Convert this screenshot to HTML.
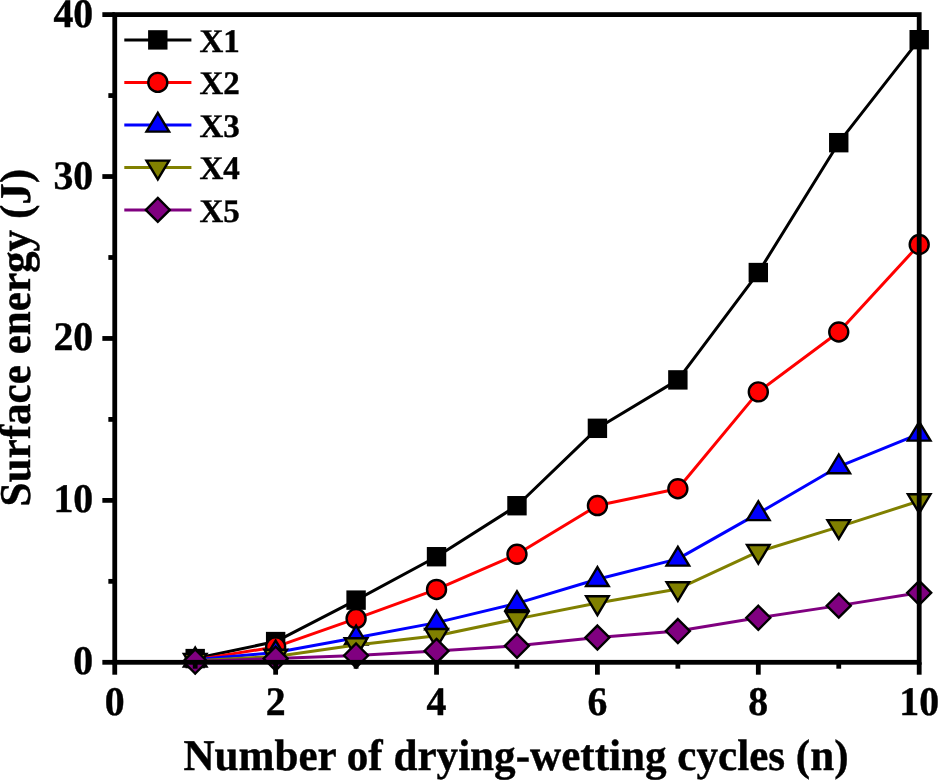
<!DOCTYPE html>
<html><head><meta charset="utf-8"><style>
html,body{margin:0;padding:0;background:#fff;}
svg{display:block;will-change:transform;}
text{font-family:"Liberation Serif",serif;font-weight:bold;fill:#000;text-rendering:geometricPrecision;stroke:#000;stroke-width:0.4px;}
.t{font-size:40.5px;}
.ttl{font-size:44px;}
.lg{font-size:33px;}
</style></head><body>
<svg width="938" height="780" viewBox="0 0 938 780">
<rect width="938" height="780" fill="#fff"/>
<polyline points="195.19,658.58 275.64,641.57 356.09,600.12 436.53,556.72 516.98,505.72 597.42,428.32 677.87,379.90 758.31,272.55 838.75,142.68 919.20,39.70" fill="none" stroke="#000000" stroke-width="3.0" stroke-linejoin="round"/>
<rect x="186.69" y="650.08" width="17.0" height="17.0" fill="#000000" stroke="#000" stroke-width="2.4"/>
<rect x="267.14" y="633.07" width="17.0" height="17.0" fill="#000000" stroke="#000" stroke-width="2.4"/>
<rect x="347.59" y="591.62" width="17.0" height="17.0" fill="#000000" stroke="#000" stroke-width="2.4"/>
<rect x="428.03" y="548.22" width="17.0" height="17.0" fill="#000000" stroke="#000" stroke-width="2.4"/>
<rect x="508.48" y="497.22" width="17.0" height="17.0" fill="#000000" stroke="#000" stroke-width="2.4"/>
<rect x="588.92" y="419.82" width="17.0" height="17.0" fill="#000000" stroke="#000" stroke-width="2.4"/>
<rect x="669.37" y="371.40" width="17.0" height="17.0" fill="#000000" stroke="#000" stroke-width="2.4"/>
<rect x="749.81" y="264.05" width="17.0" height="17.0" fill="#000000" stroke="#000" stroke-width="2.4"/>
<rect x="830.25" y="134.18" width="17.0" height="17.0" fill="#000000" stroke="#000" stroke-width="2.4"/>
<rect x="910.70" y="31.20" width="17.0" height="17.0" fill="#000000" stroke="#000" stroke-width="2.4"/>
<polyline points="195.19,659.87 275.64,646.92 356.09,618.58 436.53,589.43 516.98,554.30 597.42,505.56 677.87,488.72 758.31,391.89 838.75,331.97 919.20,244.53" fill="none" stroke="#ff0000" stroke-width="3.0" stroke-linejoin="round"/>
<circle cx="195.19" cy="659.87" r="9.5" fill="#ff0000" stroke="#000" stroke-width="2.4"/>
<circle cx="275.64" cy="646.92" r="9.5" fill="#ff0000" stroke="#000" stroke-width="2.4"/>
<circle cx="356.09" cy="618.58" r="9.5" fill="#ff0000" stroke="#000" stroke-width="2.4"/>
<circle cx="436.53" cy="589.43" r="9.5" fill="#ff0000" stroke="#000" stroke-width="2.4"/>
<circle cx="516.98" cy="554.30" r="9.5" fill="#ff0000" stroke="#000" stroke-width="2.4"/>
<circle cx="597.42" cy="505.56" r="9.5" fill="#ff0000" stroke="#000" stroke-width="2.4"/>
<circle cx="677.87" cy="488.72" r="9.5" fill="#ff0000" stroke="#000" stroke-width="2.4"/>
<circle cx="758.31" cy="391.89" r="9.5" fill="#ff0000" stroke="#000" stroke-width="2.4"/>
<circle cx="838.75" cy="331.97" r="9.5" fill="#ff0000" stroke="#000" stroke-width="2.4"/>
<circle cx="919.20" cy="244.53" r="9.5" fill="#ff0000" stroke="#000" stroke-width="2.4"/>
<polyline points="195.19,659.71 275.64,652.58 356.09,637.69 436.53,622.63 516.98,603.36 597.42,579.23 677.87,558.83 758.31,513.33 838.75,466.53 919.20,433.82" fill="none" stroke="#0000ff" stroke-width="3.0" stroke-linejoin="round"/>
<polygon points="195.19,647.68 183.89,666.48 206.50,666.48" fill="#0000ff" stroke="#000" stroke-width="2.4" stroke-linejoin="miter"/>
<polygon points="275.64,640.55 264.34,659.35 286.94,659.35" fill="#0000ff" stroke="#000" stroke-width="2.4" stroke-linejoin="miter"/>
<polygon points="356.09,625.66 344.79,644.46 367.39,644.46" fill="#0000ff" stroke="#000" stroke-width="2.4" stroke-linejoin="miter"/>
<polygon points="436.53,610.60 425.23,629.40 447.83,629.40" fill="#0000ff" stroke="#000" stroke-width="2.4" stroke-linejoin="miter"/>
<polygon points="516.98,591.33 505.68,610.13 528.27,610.13" fill="#0000ff" stroke="#000" stroke-width="2.4" stroke-linejoin="miter"/>
<polygon points="597.42,567.20 586.12,586.00 608.72,586.00" fill="#0000ff" stroke="#000" stroke-width="2.4" stroke-linejoin="miter"/>
<polygon points="677.87,546.80 666.57,565.60 689.16,565.60" fill="#0000ff" stroke="#000" stroke-width="2.4" stroke-linejoin="miter"/>
<polygon points="758.31,501.30 747.01,520.10 769.61,520.10" fill="#0000ff" stroke="#000" stroke-width="2.4" stroke-linejoin="miter"/>
<polygon points="838.75,454.50 827.46,473.30 850.05,473.30" fill="#0000ff" stroke="#000" stroke-width="2.4" stroke-linejoin="miter"/>
<polygon points="919.20,421.79 907.90,440.59 930.50,440.59" fill="#0000ff" stroke="#000" stroke-width="2.4" stroke-linejoin="miter"/>
<polyline points="195.19,660.68 275.64,656.47 356.09,644.97 436.53,635.74 516.98,618.90 597.42,603.04 677.87,588.95 758.31,551.71 838.75,526.93 919.20,501.02" fill="none" stroke="#808000" stroke-width="3.0" stroke-linejoin="round"/>
<polygon points="195.19,672.71 183.89,653.91 206.50,653.91" fill="#808000" stroke="#000" stroke-width="2.4" stroke-linejoin="miter"/>
<polygon points="275.64,668.50 264.34,649.70 286.94,649.70" fill="#808000" stroke="#000" stroke-width="2.4" stroke-linejoin="miter"/>
<polygon points="356.09,657.01 344.79,638.21 367.39,638.21" fill="#808000" stroke="#000" stroke-width="2.4" stroke-linejoin="miter"/>
<polygon points="436.53,647.78 425.23,628.98 447.83,628.98" fill="#808000" stroke="#000" stroke-width="2.4" stroke-linejoin="miter"/>
<polygon points="516.98,630.94 505.68,612.14 528.27,612.14" fill="#808000" stroke="#000" stroke-width="2.4" stroke-linejoin="miter"/>
<polygon points="597.42,615.07 586.12,596.27 608.72,596.27" fill="#808000" stroke="#000" stroke-width="2.4" stroke-linejoin="miter"/>
<polygon points="677.87,600.98 666.57,582.18 689.16,582.18" fill="#808000" stroke="#000" stroke-width="2.4" stroke-linejoin="miter"/>
<polygon points="758.31,563.74 747.01,544.94 769.61,544.94" fill="#808000" stroke="#000" stroke-width="2.4" stroke-linejoin="miter"/>
<polygon points="838.75,538.96 827.46,520.16 850.05,520.16" fill="#808000" stroke="#000" stroke-width="2.4" stroke-linejoin="miter"/>
<polygon points="919.20,513.05 907.90,494.25 930.50,494.25" fill="#808000" stroke="#000" stroke-width="2.4" stroke-linejoin="miter"/>
<polyline points="195.19,661.49 275.64,658.58 356.09,655.50 436.53,650.97 516.98,645.78 597.42,637.53 677.87,631.05 758.31,617.77 838.75,605.63 919.20,592.83" fill="none" stroke="#800080" stroke-width="3.0" stroke-linejoin="round"/>
<polygon points="195.19,649.49 207.19,661.49 195.19,673.49 183.19,661.49" fill="#800080" stroke="#000" stroke-width="2.4"/>
<polygon points="275.64,646.58 287.64,658.58 275.64,670.58 263.64,658.58" fill="#800080" stroke="#000" stroke-width="2.4"/>
<polygon points="356.09,643.50 368.09,655.50 356.09,667.50 344.09,655.50" fill="#800080" stroke="#000" stroke-width="2.4"/>
<polygon points="436.53,638.97 448.53,650.97 436.53,662.97 424.53,650.97" fill="#800080" stroke="#000" stroke-width="2.4"/>
<polygon points="516.98,633.78 528.98,645.78 516.98,657.78 504.98,645.78" fill="#800080" stroke="#000" stroke-width="2.4"/>
<polygon points="597.42,625.53 609.42,637.53 597.42,649.53 585.42,637.53" fill="#800080" stroke="#000" stroke-width="2.4"/>
<polygon points="677.87,619.05 689.87,631.05 677.87,643.05 665.87,631.05" fill="#800080" stroke="#000" stroke-width="2.4"/>
<polygon points="758.31,605.77 770.31,617.77 758.31,629.77 746.31,617.77" fill="#800080" stroke="#000" stroke-width="2.4"/>
<polygon points="838.75,593.63 850.75,605.63 838.75,617.63 826.75,605.63" fill="#800080" stroke="#000" stroke-width="2.4"/>
<polygon points="919.20,580.83 931.20,592.83 919.20,604.83 907.20,592.83" fill="#800080" stroke="#000" stroke-width="2.4"/>
<rect x="114.75" y="14.6" width="804.45" height="647.70" fill="none" stroke="#000" stroke-width="4.8" stroke-linejoin="miter"/>
<line x1="102.35" y1="662.30" x2="114.75" y2="662.30" stroke="#000" stroke-width="4.8"/>
<line x1="108.35" y1="581.34" x2="114.75" y2="581.34" stroke="#000" stroke-width="4.8"/>
<line x1="102.35" y1="500.38" x2="114.75" y2="500.38" stroke="#000" stroke-width="4.8"/>
<line x1="108.35" y1="419.41" x2="114.75" y2="419.41" stroke="#000" stroke-width="4.8"/>
<line x1="102.35" y1="338.45" x2="114.75" y2="338.45" stroke="#000" stroke-width="4.8"/>
<line x1="108.35" y1="257.49" x2="114.75" y2="257.49" stroke="#000" stroke-width="4.8"/>
<line x1="102.35" y1="176.53" x2="114.75" y2="176.53" stroke="#000" stroke-width="4.8"/>
<line x1="108.35" y1="95.56" x2="114.75" y2="95.56" stroke="#000" stroke-width="4.8"/>
<line x1="102.35" y1="14.60" x2="114.75" y2="14.60" stroke="#000" stroke-width="4.8"/>
<line x1="114.75" y1="662.3" x2="114.75" y2="674.70" stroke="#000" stroke-width="4.8"/>
<line x1="195.19" y1="662.3" x2="195.19" y2="668.70" stroke="#000" stroke-width="4.8"/>
<line x1="275.64" y1="662.3" x2="275.64" y2="674.70" stroke="#000" stroke-width="4.8"/>
<line x1="356.09" y1="662.3" x2="356.09" y2="668.70" stroke="#000" stroke-width="4.8"/>
<line x1="436.53" y1="662.3" x2="436.53" y2="674.70" stroke="#000" stroke-width="4.8"/>
<line x1="516.98" y1="662.3" x2="516.98" y2="668.70" stroke="#000" stroke-width="4.8"/>
<line x1="597.42" y1="662.3" x2="597.42" y2="674.70" stroke="#000" stroke-width="4.8"/>
<line x1="677.87" y1="662.3" x2="677.87" y2="668.70" stroke="#000" stroke-width="4.8"/>
<line x1="758.31" y1="662.3" x2="758.31" y2="674.70" stroke="#000" stroke-width="4.8"/>
<line x1="838.75" y1="662.3" x2="838.75" y2="668.70" stroke="#000" stroke-width="4.8"/>
<line x1="919.20" y1="662.3" x2="919.20" y2="674.70" stroke="#000" stroke-width="4.8"/>
<text transform="translate(93.2,674.30) scale(0.982,1)" text-anchor="end" class="t">0</text>
<text transform="translate(93.2,512.38) scale(0.982,1)" text-anchor="end" class="t">10</text>
<text transform="translate(93.2,350.45) scale(0.982,1)" text-anchor="end" class="t">20</text>
<text transform="translate(93.2,188.53) scale(0.982,1)" text-anchor="end" class="t">30</text>
<text transform="translate(93.2,26.60) scale(0.982,1)" text-anchor="end" class="t">40</text>
<text transform="translate(114.75,715.2) scale(0.982,1)" text-anchor="middle" class="t">0</text>
<text transform="translate(275.64,715.2) scale(0.982,1)" text-anchor="middle" class="t">2</text>
<text transform="translate(436.53,715.2) scale(0.982,1)" text-anchor="middle" class="t">4</text>
<text transform="translate(597.42,715.2) scale(0.982,1)" text-anchor="middle" class="t">6</text>
<text transform="translate(758.31,715.2) scale(0.982,1)" text-anchor="middle" class="t">8</text>
<text transform="translate(919.20,715.2) scale(0.982,1)" text-anchor="middle" class="t">10</text>
<text transform="translate(516.0,770.4) scale(0.98,1)" text-anchor="middle" class="ttl">Number of drying-wetting cycles (n)</text>
<text transform="translate(30.0,337.6) rotate(-90) scale(0.98,1)" text-anchor="middle" class="ttl">Surface energy (J)</text>
<line x1="124.3" y1="39.90" x2="191.4" y2="39.90" stroke="#000000" stroke-width="3.0"/>
<rect x="149.30" y="31.40" width="17.0" height="17.0" fill="#000000" stroke="#000" stroke-width="2.4"/>
<text x="199.5" y="51.90" class="lg">X1</text>
<line x1="124.3" y1="82.40" x2="191.4" y2="82.40" stroke="#ff0000" stroke-width="3.0"/>
<circle cx="157.80" cy="82.40" r="9.5" fill="#ff0000" stroke="#000" stroke-width="2.4"/>
<text x="199.5" y="94.40" class="lg">X2</text>
<line x1="124.3" y1="124.90" x2="191.4" y2="124.90" stroke="#0000ff" stroke-width="3.0"/>
<polygon points="157.80,112.87 146.50,131.67 169.10,131.67" fill="#0000ff" stroke="#000" stroke-width="2.4" stroke-linejoin="miter"/>
<text x="199.5" y="136.90" class="lg">X3</text>
<line x1="124.3" y1="167.40" x2="191.4" y2="167.40" stroke="#808000" stroke-width="3.0"/>
<polygon points="157.80,179.43 146.50,160.63 169.10,160.63" fill="#808000" stroke="#000" stroke-width="2.4" stroke-linejoin="miter"/>
<text x="199.5" y="179.40" class="lg">X4</text>
<line x1="124.3" y1="209.90" x2="191.4" y2="209.90" stroke="#800080" stroke-width="3.0"/>
<polygon points="157.80,197.90 169.80,209.90 157.80,221.90 145.80,209.90" fill="#800080" stroke="#000" stroke-width="2.4"/>
<text x="199.5" y="221.90" class="lg">X5</text>
</svg>
</body></html>
